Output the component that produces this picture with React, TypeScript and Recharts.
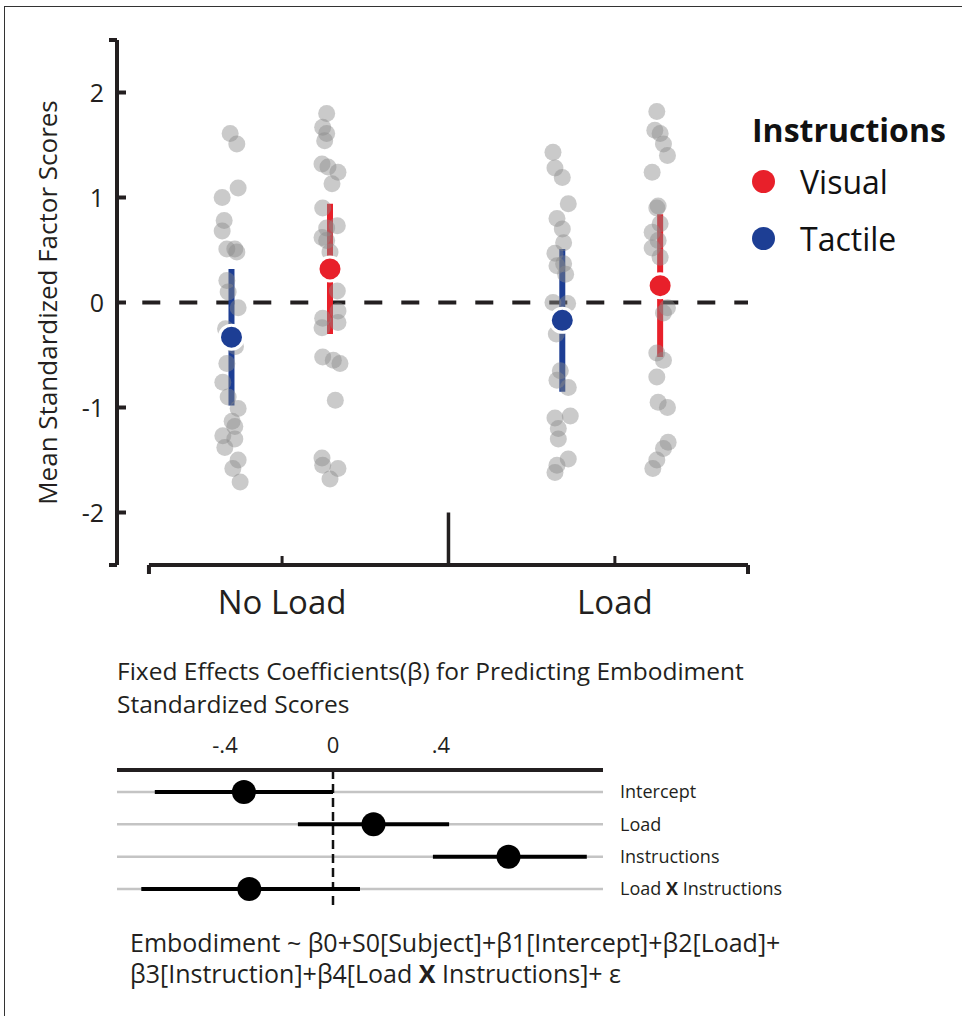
import {
  ComposedChart,
  ErrorBar,
  ReferenceLine,
  Scatter,
  XAxis,
  YAxis,
} from "recharts";

const AXIS = "#231f20";
const FONT = "'Open Sans', 'Noto Sans', sans-serif";

// top panel
const conditionTicks = [2, 7];
const conditionLabels = ["No Load", "Load"];
const instructionNames = ["Visual", "Tactile"];
const instructionColors = ["#e8202a", "#1d3e94"];

// column centres: no load tactile, no load visual, load tactile, load visual
const columnX = [1.24, 2.72, 6.21, 7.68];

const noLoadTactileY = [1.61, 1.51, 1.09, 1.0, 0.78, 0.68, 0.51, 0.51, 0.48, 0.21, 0.1, -0.05, -0.25, -0.42, -0.58, -0.76, -0.9, -1.01, -1.13, -1.18, -1.27, -1.3, -1.38, -1.5, -1.58, -1.71];
const noLoadTactileJitter = [-0.02, 0.08, 0.1, -0.14, -0.11, -0.14, -0.07, 0.05, 0.08, -0.07, -0.05, 0.1, -0.09, 0.06, -0.07, -0.13, -0.05, 0.1, 0.01, 0.05, -0.13, 0.05, -0.1, 0.1, 0.02, 0.13];

const noLoadVisualY = [1.8, 1.67, 1.61, 1.54, 1.32, 1.29, 1.24, 1.13, 0.9, 0.73, 0.71, 0.62, 0.59, 0.48, 0.11, -0.08, -0.15, -0.19, -0.24, -0.52, -0.55, -0.58, -0.93, -1.48, -1.55, -1.58, -1.68];
const noLoadVisualJitter = [-0.05, -0.11, -0.05, -0.08, -0.12, -0.03, 0.12, 0.03, -0.11, 0.11, -0.05, -0.12, -0.05, 0.0, 0.11, 0.12, -0.11, 0.12, -0.12, -0.11, 0.05, 0.15, 0.08, -0.12, -0.11, 0.12, 0.0];

const loadTactileY = [1.43, 1.28, 1.19, 0.94, 0.8, 0.7, 0.57, 0.47, 0.37, 0.35, 0.27, 0.0, -0.01, -0.3, -0.65, -0.74, -0.81, -1.08, -1.1, -1.2, -1.3, -1.49, -1.55, -1.62];
const loadTactileJitter = [-0.14, -0.11, 0.0, 0.09, -0.08, 0.0, 0.02, -0.11, 0.02, -0.08, 0.05, -0.14, 0.08, -0.09, -0.03, -0.08, 0.09, 0.12, -0.11, -0.06, -0.06, 0.09, -0.08, -0.11];

const loadVisualY = [1.82, 1.64, 1.61, 1.51, 1.4, 1.24, 0.92, 0.9, 0.75, 0.67, 0.59, 0.52, 0.43, -0.05, -0.1, -0.48, -0.55, -0.71, -0.95, -1.0, -1.33, -1.39, -1.5, -1.58];
const loadVisualJitter = [-0.05, -0.08, 0.0, 0.05, 0.11, -0.12, -0.03, -0.05, 0.0, -0.12, -0.03, -0.12, 0.0, 0.11, 0.05, -0.05, 0.05, -0.05, -0.03, 0.11, 0.12, 0.05, -0.05, -0.11];

const tactileMeans = [-0.33, -0.17];
const tactileErrors = [0.65, 0.68];
const visualMeans = [0.32, 0.16];
const visualErrors = [0.62, 0.68];

// bottom panel
const effectNames = ["Intercept", "Load", "Instructions", "Load X Instructions"];
const effectEstimates = [-0.33, 0.15, 0.65, -0.31];
const effectLower = [-0.66, -0.13, 0.37, -0.71];
const effectUpper = [0.0, 0.43, 0.94, 0.1];
const effectTicks = [-0.4, 0, 0.4];
const effectRows = [1, 2, 3, 4];

const cloud = (cx: number, ys: number[], jitter: number[]) =>
  ys.map((y, i) => ({ x: cx + jitter[i], y }));

const grayPoints = [
  ...cloud(columnX[0], noLoadTactileY, noLoadTactileJitter),
  ...cloud(columnX[1], noLoadVisualY, noLoadVisualJitter),
  ...cloud(columnX[2], loadTactileY, loadTactileJitter),
  ...cloud(columnX[3], loadVisualY, loadVisualJitter),
];

const tactileData = tactileMeans.map((y, i) => ({ x: columnX[i * 2], y, err: tactileErrors[i] }));
const visualData = visualMeans.map((y, i) => ({ x: columnX[i * 2 + 1], y, err: visualErrors[i] }));

const effectData = effectNames.map((name, i) => ({
  name,
  x: effectEstimates[i],
  y: effectRows[i],
  err: [effectEstimates[i] - effectLower[i], effectUpper[i] - effectEstimates[i]],
}));


function GrayDot(props: any) {
  return <circle cx={props.cx} cy={props.cy} r={8.5} fill="#8a8a8a" fillOpacity={0.45} />;
}

function meanDot(color: string) {
  return (props: any) => (
    <circle cx={props.cx} cy={props.cy} r={12} fill={color} stroke="#fff" strokeWidth={3} />
  );
}

function ScoreTick({ x, y, payload }: any) {
  const v = payload.value;
  if (Math.abs(v) === 2.5) {
    return <line x1={x} x2={x - 8} y1={y} y2={y} stroke={AXIS} strokeWidth={4} />;
  }
  return (
    <g>
      <line x1={x} x2={x + 9} y1={y} y2={y} stroke={AXIS} strokeWidth={4} />
      <text x={x - 13} y={y} dy="0.36em" textAnchor="end" fontSize={25} fill={AXIS} fontFamily={FONT}>
        {v}
      </text>
    </g>
  );
}

function ConditionTick({ x, y, payload }: any) {
  const idx = conditionTicks.indexOf(payload.value);
  if (idx < 0) {
    return <line x1={x} x2={x} y1={y} y2={y + 9} stroke={AXIS} strokeWidth={4} />;
  }
  return (
    <g>
      <line x1={x} x2={x} y1={y} y2={y - 9} stroke={AXIS} strokeWidth={3} />
      <text x={x} y={y + 49} textAnchor="middle" fontSize={33} fill={AXIS} fontFamily={FONT}>
        {conditionLabels[idx]}
      </text>
    </g>
  );
}

function ScoreLabel(props: any) {
  const vb = props.viewBox;
  return (
    <text
      transform={`translate(${vb.x + 30}, ${vb.y + vb.height / 2}) rotate(-90)`}
      textAnchor="middle"
      dominantBaseline="central"
      fontSize={26}
      fill={AXIS}
      fontFamily={FONT}
    >
      Mean Standardized Factor Scores
    </text>
  );
}

function ScoresChart() {
  return (
    <ComposedChart width={962} height={640} margin={{ top: 40, right: 214, bottom: 15, left: 17 }}>
      <XAxis
        type="number"
        dataKey="x"
        domain={[-0.48, 9]}
        allowDataOverflow
        ticks={[0, ...conditionTicks, 9]}
        interval={0}
        axisLine={false}
        tickLine={false}
        tickSize={0}
        tickMargin={0}
        height={60}
        tick={<ConditionTick />}
      />
      <YAxis
        type="number"
        dataKey="y"
        domain={[-2.5, 2.5]}
        allowDataOverflow
        ticks={[-2.5, -2, -1, 0, 1, 2, 2.5]}
        interval={0}
        width={100}
        axisLine={{ stroke: AXIS, strokeWidth: 4 }}
        tickLine={false}
        tickSize={0}
        tickMargin={0}
        tick={<ScoreTick />}
        label={ScoreLabel}
      />
      <ReferenceLine
        segment={[{ x: 0, y: -2.5 }, { x: 9, y: -2.5 }]}
        stroke={AXIS}
        strokeWidth={4}
        ifOverflow="visible"
      />
      <ReferenceLine
        segment={[{ x: 4.5, y: -2 }, { x: 4.5, y: -2.5 }]}
        stroke={AXIS}
        strokeWidth={3.5}
        ifOverflow="visible"
      />
      <ReferenceLine
        segment={[{ x: -0.1, y: 0 }, { x: 9, y: 0 }]}
        stroke={AXIS}
        strokeWidth={4}
        strokeDasharray="18 19"
      />
      <Scatter data={grayPoints} shape={GrayDot} isAnimationActive={false} />
      <Scatter data={visualData} shape={meanDot(instructionColors[0])} isAnimationActive={false}>
        <ErrorBar dataKey="err" direction="y" width={0} strokeWidth={6} stroke={instructionColors[0]} isAnimationActive={false} />
      </Scatter>
      <Scatter data={tactileData} shape={meanDot(instructionColors[1])} isAnimationActive={false}>
        <ErrorBar dataKey="err" direction="y" width={0} strokeWidth={6} stroke={instructionColors[1]} isAnimationActive={false} />
      </Scatter>
    </ComposedChart>
  );
}

function InstructionLegend() {
  return (
    <div style={{ position: "absolute", left: 752, top: 107, color: "#111", fontFamily: FONT }}>
      <div style={{ fontWeight: 700, fontSize: 32, lineHeight: "46px" }}>Instructions</div>
      {instructionNames.map((name, i) => (
        <div key={name} style={{ display: "flex", alignItems: "center", height: 57 }}>
          <span
            style={{
              display: "inline-block",
              width: 23,
              height: 23,
              borderRadius: "50%",
              background: instructionColors[i],
            }}
          />
          <span style={{ marginLeft: 25, fontSize: 32 }}>{name}</span>
        </div>
      ))}
    </div>
  );
}

function EffectValueTick({ x, y, payload }: any) {
  const v = payload.value;
  const label = v === 0 ? "0" : (v < 0 ? "-" : "") + String(Math.abs(v)).replace(/^0/, "");
  return (
    <text x={x} y={y - 17} textAnchor="middle" fontSize={22} fill={AXIS} fontFamily={FONT}>
      {label}
    </text>
  );
}

function EffectNameTick({ x, y, payload }: any) {
  const name = effectNames[effectRows.indexOf(Math.round(payload.value))] ?? "";
  const parts = name.split(" X ");
  return (
    <text x={x} y={y} dy="0.36em" textAnchor="start" fontSize={18} fill={AXIS} fontFamily={FONT}>
      {parts.length > 1 ? (
        <>
          {parts[0]} <tspan fontWeight={700}>X</tspan> {parts[1]}
        </>
      ) : (
        name
      )}
    </text>
  );
}

function EffectDot(props: any) {
  return <circle cx={props.cx} cy={props.cy} r={12} fill="#000" />;
}

function CoefficientChart() {
  return (
    <ComposedChart width={962} height={240} margin={{ top: 30, right: 159, bottom: 30, left: 117 }}>
      <XAxis
        type="number"
        dataKey="x"
        orientation="top"
        domain={[-0.8, 1.0]}
        allowDataOverflow
        ticks={effectTicks}
        interval={0}
        height={40}
        axisLine={{ stroke: AXIS, strokeWidth: 4 }}
        tickLine={false}
        tickSize={0}
        tickMargin={0}
        tick={<EffectValueTick />}
      />
      <YAxis
        type="number"
        dataKey="y"
        orientation="right"
        reversed
        domain={[0.32, 4.65]}
        allowDataOverflow
        ticks={effectRows}
        interval={0}
        width={200}
        axisLine={false}
        tickLine={false}
        tickSize={0}
        tickMargin={17}
        tick={<EffectNameTick />}
      />
      {effectRows.map((row) => (
        <ReferenceLine key={row} y={row} stroke="#c4c4c4" strokeWidth={2.5} />
      ))}
      <ReferenceLine x={0} stroke="#111" strokeWidth={2.5} strokeDasharray="9 5" />
      <Scatter data={effectData} shape={EffectDot} isAnimationActive={false}>
        <ErrorBar dataKey="err" direction="x" width={0} strokeWidth={4} stroke="#000" isAnimationActive={false} />
      </Scatter>
    </ComposedChart>
  );
}

export default function App() {
  return (
    <div
      style={{
        position: "absolute",
        left: 0,
        top: 0,
        width: 962,
        height: 1016,
        background: "#fff",
        overflow: "hidden",
        fontFamily: FONT,
        color: AXIS,
      }}
    >
      <div
        style={{
          position: "absolute",
          left: 4,
          top: 6,
          width: 1000,
          height: 1100,
          borderLeft: "1px solid #333",
          borderTop: "1px solid #333",
        }}
      />
      <div style={{ position: "absolute", left: 0, top: 0 }}>
        <ScoresChart />
      </div>
      <InstructionLegend />
      <div style={{ position: "absolute", left: 117, top: 654, fontSize: 24.5, lineHeight: "33px" }}>
        <div>Fixed Effects Coefficients(β) for Predicting Embodiment</div>
        <div>Standardized Scores</div>
      </div>
      <div style={{ position: "absolute", left: 0, top: 700 }}>
        <CoefficientChart />
      </div>
      <div style={{ position: "absolute", left: 130, top: 927, fontSize: 25, lineHeight: "31px" }}>
        <div>Embodiment ~ β0+S0[Subject]+β1[Intercept]+β2[Load]+</div>
        <div>
          β3[Instruction]+β4[Load <b>X</b> Instructions]+ ε
        </div>
      </div>
    </div>
  );
}
